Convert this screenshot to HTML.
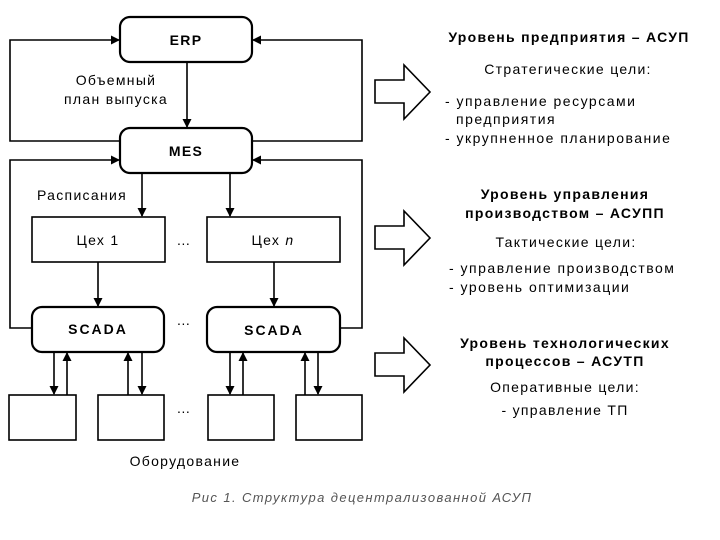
<!DOCTYPE html>
<html><head><meta charset="utf-8"><style>
html,body{margin:0;padding:0;background:#fff;}
svg{display:block;}
text{font-family:"Liberation Sans","DejaVu Sans",sans-serif;fill:#000;}
</style></head><body>
<svg width="720" height="540" viewBox="0 0 720 540" xmlns="http://www.w3.org/2000/svg">
<defs>
<marker id="a" markerWidth="9" markerHeight="9" refX="8" refY="4.5" orient="auto" markerUnits="userSpaceOnUse">
<path d="M0,0 L9,4.5 L0,9 z" fill="#000"/></marker>
</defs>
<g fill="none" stroke="#000" stroke-width="1.6">
<rect x="120" y="17" width="132" height="45" rx="10" stroke-width="2.2"/>
<rect x="120" y="128" width="132" height="45" rx="10" stroke-width="2.2"/>
<rect x="32" y="217" width="133" height="45"/>
<rect x="207" y="217" width="133" height="45"/>
<rect x="32" y="307" width="132" height="45" rx="10" stroke-width="2.2"/>
<rect x="207" y="307" width="133" height="45" rx="10" stroke-width="2.2"/>
<rect x="9" y="395" width="67" height="45"/>
<rect x="98" y="395" width="66" height="45"/>
<rect x="208" y="395" width="66" height="45"/>
<rect x="296" y="395" width="66" height="45"/>
<polyline points="120,141 10,141 10,40 119,40" marker-end="url(#a)"/>
<polyline points="252,141 362,141 362,40 253,40" marker-end="url(#a)"/>
<polyline points="32,328 10,328 10,160 119,160" marker-end="url(#a)"/>
<polyline points="340,328 362,328 362,160 253,160" marker-end="url(#a)"/>
<line x1="187" y1="62" x2="187" y2="127" marker-end="url(#a)"/>
<line x1="142" y1="173" x2="142" y2="216" marker-end="url(#a)"/>
<line x1="230" y1="173" x2="230" y2="216" marker-end="url(#a)"/>
<line x1="98" y1="262" x2="98" y2="306" marker-end="url(#a)"/>
<line x1="274" y1="262" x2="274" y2="306" marker-end="url(#a)"/>
<line x1="54" y1="352" x2="54" y2="394" marker-end="url(#a)"/>
<line x1="67" y1="395" x2="67" y2="353" marker-end="url(#a)"/>
<line x1="128" y1="395" x2="128" y2="353" marker-end="url(#a)"/>
<line x1="142" y1="352" x2="142" y2="394" marker-end="url(#a)"/>
<line x1="230" y1="352" x2="230" y2="394" marker-end="url(#a)"/>
<line x1="243" y1="395" x2="243" y2="353" marker-end="url(#a)"/>
<line x1="305" y1="395" x2="305" y2="353" marker-end="url(#a)"/>
<line x1="318" y1="352" x2="318" y2="394" marker-end="url(#a)"/>
<path d="M375,80 L404,80 L404,65 L430,92 L404,119 L404,103 L375,103 Z"/>
<path d="M375,226 L404,226 L404,211 L430,238 L404,265 L404,249 L375,249 Z"/>
<path d="M375,353 L404,353 L404,338 L430,365 L404,392 L404,376 L375,376 Z"/>
</g>
<g font-size="14" text-anchor="middle" letter-spacing="1.3">
<text x="186" y="45" font-weight="bold">ERP</text>
<text x="186" y="156" font-weight="bold">MES</text>
<text x="116" y="85">Объемный</text>
<text x="116" y="104">план выпуска</text>
<text x="82" y="200">Расписания</text>
<text x="98" y="245">Цех 1</text>
<text x="273" y="245">Цех <tspan font-style="italic">n</tspan></text>
<text x="98" y="334" font-weight="bold" letter-spacing="2">SCADA</text>
<text x="274" y="335" font-weight="bold" letter-spacing="2">SCADA</text>
<text x="184" y="245">…</text>
<text x="184" y="325">…</text>
<text x="184" y="413">…</text>
<text x="185" y="466">Оборудование</text>
<text x="569" y="42" font-weight="bold">Уровень предприятия – АСУП</text>
<text x="568" y="74">Стратегические цели:</text>
<text x="565" y="199" font-weight="bold">Уровень управления</text>
<text x="565" y="218" font-weight="bold">производством – АСУПП</text>
<text x="566" y="247">Тактические цели:</text>
<text x="565" y="348" font-weight="bold">Уровень технологических</text>
<text x="565" y="366" font-weight="bold">процессов – АСУТП</text>
<text x="565" y="392">Оперативные цели:</text>
<text x="565" y="415">- управление ТП</text>
</g>
<g font-size="14" letter-spacing="1.5">
<text x="445" y="106">- управление ресурсами</text>
<text x="456" y="124">предприятия</text>
<text x="445" y="143">- укрупненное планирование</text>
<text x="449" y="273">- управление производством</text>
<text x="449" y="292">- уровень оптимизации</text>
</g>
<text x="362" y="502" font-size="13" font-style="italic" text-anchor="middle" letter-spacing="1.4" style="fill:#555">Рис 1. Структура децентрализованной АСУП</text>
</svg>
</body></html>
